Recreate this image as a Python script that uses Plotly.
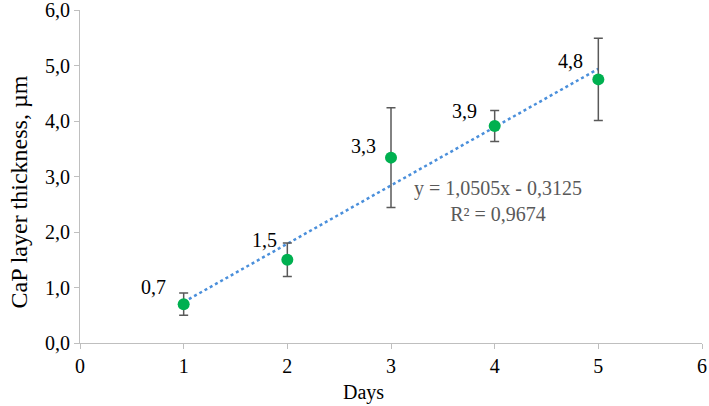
import plotly.graph_objects as go

# Data
days = [1, 2, 3, 4, 5]
thickness = [0.70, 1.50, 3.34, 3.91, 4.75]
errors = [0.20, 0.30, 0.90, 0.28, 0.74]
point_labels = ["0,7", "1,5", "3,3", "3,9", "4,8"]
trend_slope = 1.0505
trend_intercept = -0.3125
trend_x = [1, 5]
equation_text = "y = 1,0505x - 0,3125<br>R² = 0,9674"
x_title = "Days"
y_title = "CaP layer thickness, µm"
x_ticks = [0, 1, 2, 3, 4, 5, 6]
y_ticks = [0, 1, 2, 3, 4, 5, 6]

# styling offsets for labels (pixels)
label_shift = [(-30, 17), (-23, 20), (-28, 12), (-30, 15), (-28, 18)]

FONT = "Liberation Serif, Times New Roman, serif"
AXIS = "#BFBFBF"

fig = go.Figure()

trend_y = [trend_slope * x + trend_intercept for x in trend_x]
fig.add_trace(go.Scatter(
    x=trend_x, y=trend_y, mode="lines",
    line=dict(color="#4A8FDB", width=2.5, dash="dot"),
    showlegend=False, hoverinfo="skip"))

fig.add_trace(go.Scatter(
    x=days, y=thickness, mode="markers",
    marker=dict(color="#00B050", size=12),
    error_y=dict(type="data", array=errors, visible=True,
                 color="#595959", thickness=1.5, width=4.5),
    showlegend=False))

for x, y, t, (dx, dy) in zip(days, thickness, point_labels, label_shift):
    fig.add_annotation(x=x, y=y, text=t, showarrow=False,
                       xshift=dx, yshift=dy,
                       font=dict(family=FONT, size=20, color="#000000"))

fig.add_annotation(x=4.03, y=2.55, text=equation_text, showarrow=False,
                   align="center",
                   font=dict(family=FONT, size=20, color="#595959"))

# axis titles (placed as in the reference)
fig.add_annotation(xref="paper", yref="paper", x=-0.0965, y=0.455,
                   xanchor="center", yanchor="middle", textangle=-90,
                   text=y_title, showarrow=False,
                   font=dict(family=FONT, size=24, color="#000000"))
fig.add_annotation(xref="paper", yref="paper", x=0.455, y=-0.15,
                   xanchor="center", yanchor="middle",
                   text=x_title, showarrow=False,
                   font=dict(family=FONT, size=20, color="#000000"))

fig.update_layout(
    width=709, height=406,
    margin=dict(l=80, r=7, t=10, b=63),
    paper_bgcolor="white", plot_bgcolor="white",
    separators=", ",
    font=dict(family=FONT, size=20, color="#000000"),
    xaxis=dict(range=[0, 6], tickvals=x_ticks, showgrid=False, zeroline=False,
               showline=True, linecolor=AXIS, linewidth=1,
               ticks="outside", ticklen=5, tickcolor=AXIS,
               automargin=False, ticklabeloverflow="allow",
               tickfont=dict(family=FONT, size=20, color="#000000")),
    yaxis=dict(range=[0, 6], tickvals=y_ticks, tickformat=".1f",
               showgrid=False, zeroline=False,
               showline=True, linecolor=AXIS, linewidth=1,
               ticks="outside", ticklen=5, tickcolor=AXIS,
               automargin=False, ticklabeloverflow="allow",
               tickfont=dict(family=FONT, size=20, color="#000000")),
)

fig.write_html("out.html", config={"displayModeBar": False},
               post_script="document.body.style.margin='0';document.body.style.padding='0';")
